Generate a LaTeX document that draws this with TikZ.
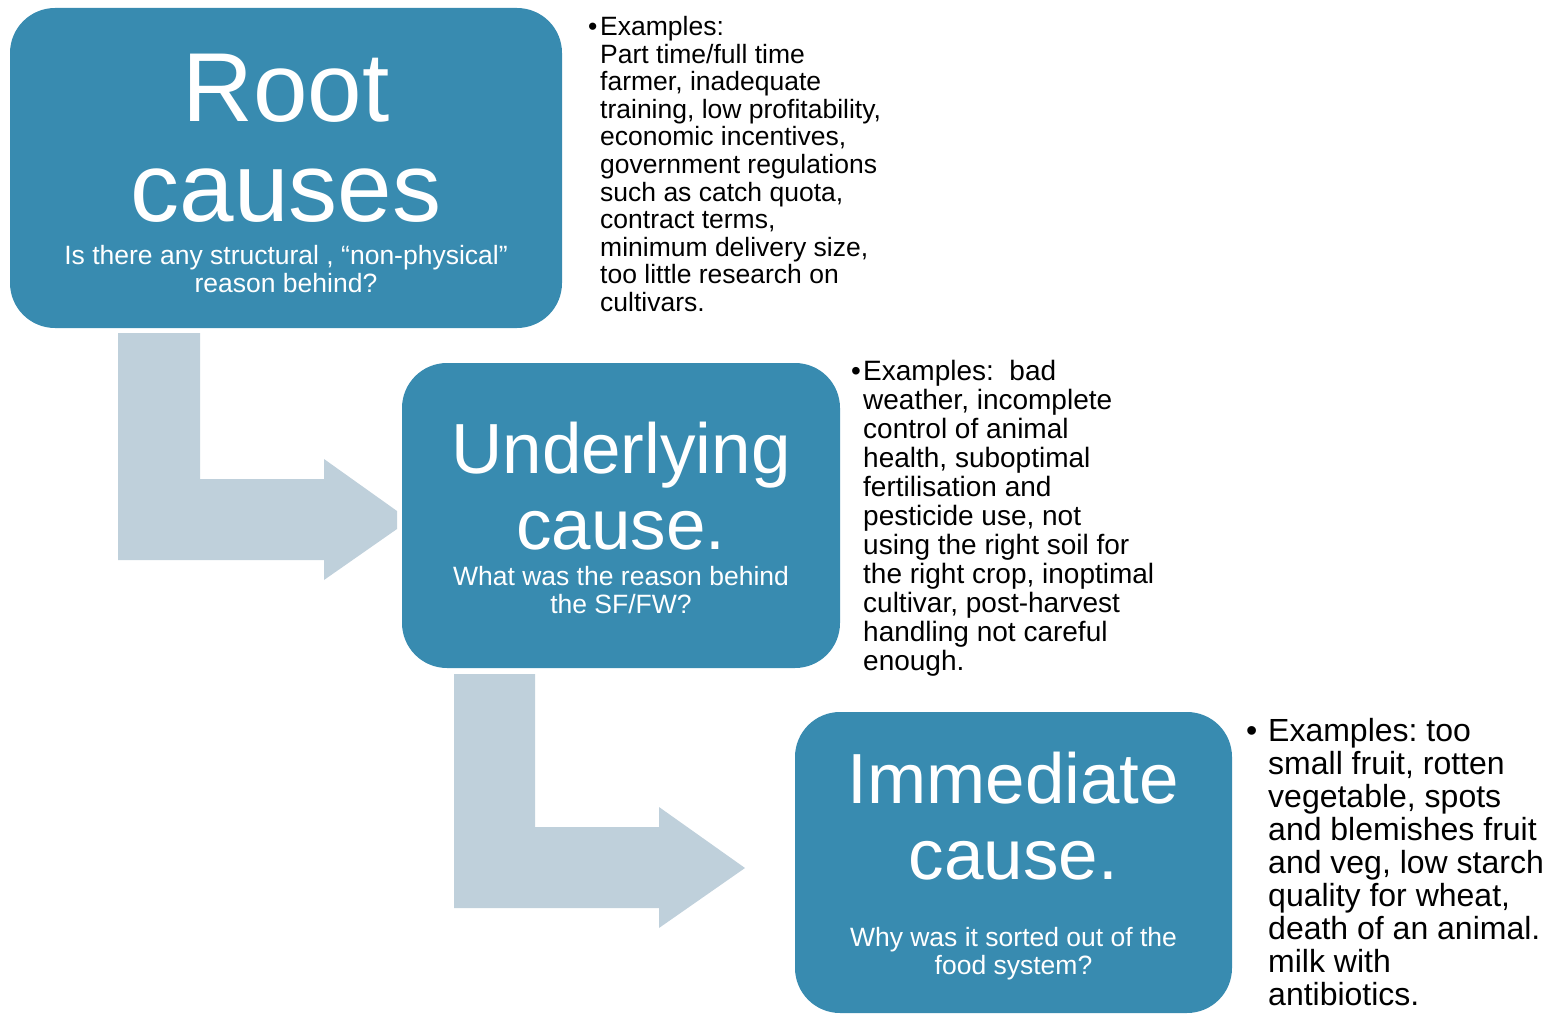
\documentclass[tikz,border=0pt]{standalone}
\usepackage{fontspec}
\setmainfont{Liberation Sans}
\usepackage{xcolor}
\usepackage{tikz}
\frenchspacing

\definecolor{boxblue}{RGB}{56,139,176}
\definecolor{arrowgrey}{RGB}{191,208,219}

\tikzset{
    causebox/.style={fill=boxblue, text=white, rounded corners=45pt, inner sep=0pt},
    examplenote/.style={anchor=base west, inner sep=0pt, text=black},
    bentarrow/.style={fill=arrowgrey}
}

\begin{document}
\begin{tikzpicture}[x=1pt, y=-1pt]
        \useasboundingbox (0,0) rectangle (1556,1014);

        \fill[bentarrow] (118,333) -- (200,333) -- (200,479) -- (324,479) -- (324,459) -- (397,511) -- (397,529) -- (324,580) -- (324,560) -- (118,560) -- cycle;
        \fill[bentarrow] (454,674) -- (535,674) -- (535,827) -- (659,827) -- (659,807) -- (745,868) -- (659,928) -- (659,908) -- (454,908) -- cycle;

        \node[causebox, minimum width=552pt, minimum height=320pt] (root) at (286,168) {
            \begin{minipage}{540pt}
                \vspace*{10pt}
                \centering
                {\fontsize{98}{100}\selectfont Root\\causes\par}
                \vspace{15pt}
                {\fontsize{26.5}{28}\selectfont Is there any structural , “non-physical”\\reason behind?\par}
            \end{minipage}
        };

        \node[causebox, minimum width=438pt, minimum height=305pt] (under) at (621,515.5) {
            \begin{minipage}{430pt}
                \vspace*{4pt}
                \centering
                {\fontsize{71}{76}\selectfont Underlying\\cause.\par}
                \vspace{8pt}
                {\fontsize{26.5}{28}\selectfont What was the reason behind\\the SF/FW?\par}
            \end{minipage}
        };

        \node[causebox, minimum width=437pt, minimum height=301pt] (immed) at (1013.5,862.5) {
            \begin{minipage}{430pt}
                \vspace*{8pt}
                \centering
                {\fontsize{71}{76}\selectfont Immediate\\cause.\par}
                \vspace{39pt}
                {\fontsize{26.5}{28}\selectfont Why was it sorted out of the\\food system?\par}
            \end{minipage}
        };

        % example lists beside each box
        \node[examplenote, font=\fontsize{26.5}{27.6}\selectfont] (rootex) at (588,35.5) {
            \begin{minipage}[t]{330pt}
                \hangindent=12pt \hangafter=1
                \makebox[12pt][l]{•}Examples:\\Part time/full time\\farmer, inadequate\\training, low profitability,\\economic incentives,\\government regulations\\such as catch quota,\\contract terms,\\minimum delivery size,\\too little research on\\cultivars.
            \end{minipage}
        };

        \node[examplenote, font=\fontsize{28}{29}\selectfont] (underex) at (851,380) {
            \begin{minipage}[t]{320pt}
                \hangindent=12pt \hangafter=1
                \makebox[12pt][l]{•}Examples:~ bad\\weather, incomplete\\control of animal\\health, suboptimal\\fertilisation and\\pesticide use, not\\using the right soil for\\the right crop, inoptimal\\cultivar, post-harvest\\handling not careful\\enough.
            \end{minipage}
        };

        \node[examplenote, font=\fontsize{32}{33.1}\selectfont] (immedex) at (1246,741) {
            \begin{minipage}[t]{300pt}
                \hangindent=22pt \hangafter=1
                \makebox[22pt][l]{•}Examples: too\\small fruit, rotten\\vegetable, spots\\and blemishes fruit\\and veg, low starch\\quality for wheat,\\death of an animal.\\milk with\\antibiotics.
            \end{minipage}
        };
\end{tikzpicture}
\end{document}
